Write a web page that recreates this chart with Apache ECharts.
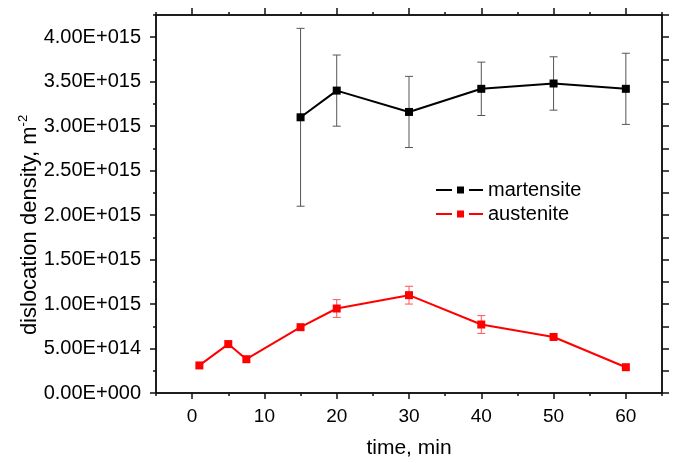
<!DOCTYPE html>
<html>
<head>
<meta charset="utf-8">
<script src="https://cdn.jsdelivr.net/npm/echarts@6/dist/echarts.min.js"></script>
<style>
html, body { margin: 0; padding: 0; background: #fff; }
#chart { width: 676px; height: 464px; }
</style>
</head>
<body>
<div id="chart"></div>
<script>
// Dislocation density (m^-2) versus holding time (min)
const martTime = [15, 20, 30, 40, 50, 60];
const martDensity = [3.10e15, 3.40e15, 3.16e15, 3.42e15, 3.48e15, 3.42e15];
const martError = [1.00e15, 0.40e15, 0.40e15, 0.30e15, 0.30e15, 0.40e15];

const austTime = [1, 5, 7.5, 15, 20, 30, 40, 50, 60];
const austDensity = [0.31e15, 0.55e15, 0.38e15, 0.74e15, 0.95e15, 1.10e15, 0.77e15, 0.63e15, 0.29e15];
const austError = [0, 0, 0, 0, 0.10e15, 0.10e15, 0.10e15, 0, 0];

// Tick positions
const xMajorTicks = [0, 10, 20, 30, 40, 50, 60];
const xMinorTicks = [-5, 5, 15, 25, 35, 45, 55, 65];
const yMajorTicks = [0, 0.5e15, 1.0e15, 1.5e15, 2.0e15, 2.5e15, 3.0e15, 3.5e15, 4.0e15];
const yMinorTicks = [0.25e15, 0.75e15, 1.25e15, 1.75e15, 2.25e15, 2.75e15, 3.25e15, 3.75e15, 4.25e15];

const FONT = '"Liberation Sans", Arial, sans-serif';
const AXIS_COLOR = '#111';

// 4.00E+015 style labels
function sciLabel(v) {
  const parts = Number(v).toExponential(2).split('e');
  const sign = parts[1].charAt(0) === '-' ? '-' : '+';
  const digits = parts[1].replace(/[+-]/, '');
  return parts[0] + 'E' + sign + digits.padStart(3, '0');
}

function xAxisDef(position, ticks, tickLen, withLabels) {
  const axis = {
    type: 'value', position: position, min: -5, max: 65,
    axisLine: { show: true, onZero: false, lineStyle: { color: AXIS_COLOR, width: 1.5 } },
    axisTick: { show: true, inside: false, length: tickLen, customValues: ticks,
                lineStyle: { color: AXIS_COLOR, width: 1.5 } },
    axisLabel: { show: false },
    splitLine: { show: false }
  };
  if (withLabels) {
    axis.axisLabel = { show: true, customValues: xMajorTicks, margin: 14, color: '#000',
                       fontSize: 19, fontFamily: FONT };
    axis.name = 'time, min';
    axis.nameLocation = 'middle';
    axis.nameGap = 45;
    axis.nameTextStyle = { color: '#000', fontSize: 21, fontFamily: FONT };
  }
  return axis;
}

function yAxisDef(position, ticks, tickLen, withLabels) {
  const axis = {
    type: 'value', position: position, min: 0, max: 4.25e15,
    axisLine: { show: true, onZero: false, lineStyle: { color: AXIS_COLOR, width: 1.5 } },
    axisTick: { show: true, inside: false, length: tickLen, customValues: ticks,
                lineStyle: { color: AXIS_COLOR, width: 1.5 } },
    axisLabel: { show: false },
    splitLine: { show: false }
  };
  if (withLabels) {
    axis.axisLabel = { show: true, customValues: yMajorTicks, margin: 15, color: '#000',
                       fontSize: 20, fontFamily: FONT, formatter: sciLabel };
  }
  return axis;
}

function errorRows(xs, ys, errs) {
  const rows = [];
  for (let i = 0; i < xs.length; i++) {
    if (errs[i] > 0) rows.push([xs[i], ys[i] - errs[i], ys[i] + errs[i]]);
  }
  return rows;
}

function errorSeries(name, rows, color) {
  return {
    type: 'custom', name: name, xAxisIndex: 0, yAxisIndex: 0, z: 1,
    data: rows,
    encode: { x: 0, y: [1, 2] },
    renderItem: function (params, api) {
      const x = api.value(0);
      const top = api.coord([x, api.value(2)]);
      const bot = api.coord([x, api.value(1)]);
      const half = 4;
      const style = { stroke: color, lineWidth: 1 };
      return {
        type: 'group',
        children: [
          { type: 'line', shape: { x1: top[0], y1: top[1], x2: bot[0], y2: bot[1] }, style: style },
          { type: 'line', shape: { x1: top[0] - half, y1: top[1], x2: top[0] + half, y2: top[1] }, style: style },
          { type: 'line', shape: { x1: bot[0] - half, y1: bot[1], x2: bot[0] + half, y2: bot[1] }, style: style }
        ]
      };
    }
  };
}

function lineSeries(name, xs, ys, color) {
  return {
    type: 'line', name: name, xAxisIndex: 0, yAxisIndex: 0, z: 3,
    data: xs.map(function (x, i) { return [x, ys[i]]; }),
    symbol: 'rect', symbolSize: 8, showSymbol: true,
    lineStyle: { color: color, width: 2 },
    itemStyle: { color: color }
  };
}

const chart = echarts.init(document.getElementById('chart'), null, { renderer: 'canvas' });
chart.setOption({
  animation: false,
  backgroundColor: '#fff',
  textStyle: { fontFamily: FONT },
  grid: { left: 156, right: 14, top: 15, bottom: 68, containLabel: false },
  xAxis: [
    xAxisDef('bottom', xMajorTicks, 6, true),
    xAxisDef('bottom', xMinorTicks, 3, false),
    xAxisDef('top', xMajorTicks, 7, false),
    xAxisDef('top', xMinorTicks, 3, false)
  ],
  yAxis: [
    yAxisDef('left', yMajorTicks, 6, true),
    yAxisDef('left', yMinorTicks, 3, false),
    yAxisDef('right', yMajorTicks, 7, false),
    yAxisDef('right', yMinorTicks, 7, false)
  ],
  legend: {
    data: ['martensite', 'austenite'],
    orient: 'vertical',
    left: 431, top: 175,
    padding: 5,
    itemWidth: 47, itemHeight: 9, itemGap: 4,
    icon: 'path://M0,3.5h16v2h-16z M21,1h7v7h-7z M33,3.5h14v2h-14z',
    textStyle: { color: '#000', fontSize: 20, fontFamily: FONT },
    selectedMode: false
  },
  graphic: [{
    type: 'text',
    x: 29, y: 225,
    rotation: Math.PI / 2,
    style: {
      text: '{a|dislocation density, m}{b|-2}',
      textAlign: 'center',
      textVerticalAlign: 'middle',
      fill: '#000',
      rich: {
        a: { fontSize: 22, fontFamily: FONT, fill: '#000', lineHeight: 24, verticalAlign: 'bottom' },
        b: { fontSize: 13, fontFamily: FONT, fill: '#000', lineHeight: 24, verticalAlign: 'top' }
      }
    }
  }],
  series: [
    errorSeries('martensite error', errorRows(martTime, martDensity, martError), '#555'),
    lineSeries('martensite', martTime, martDensity, '#000'),
    errorSeries('austenite error', errorRows(austTime, austDensity, austError), '#ff5555'),
    lineSeries('austenite', austTime, austDensity, '#ff0000')
  ]
});
</script>
</body>
</html>
